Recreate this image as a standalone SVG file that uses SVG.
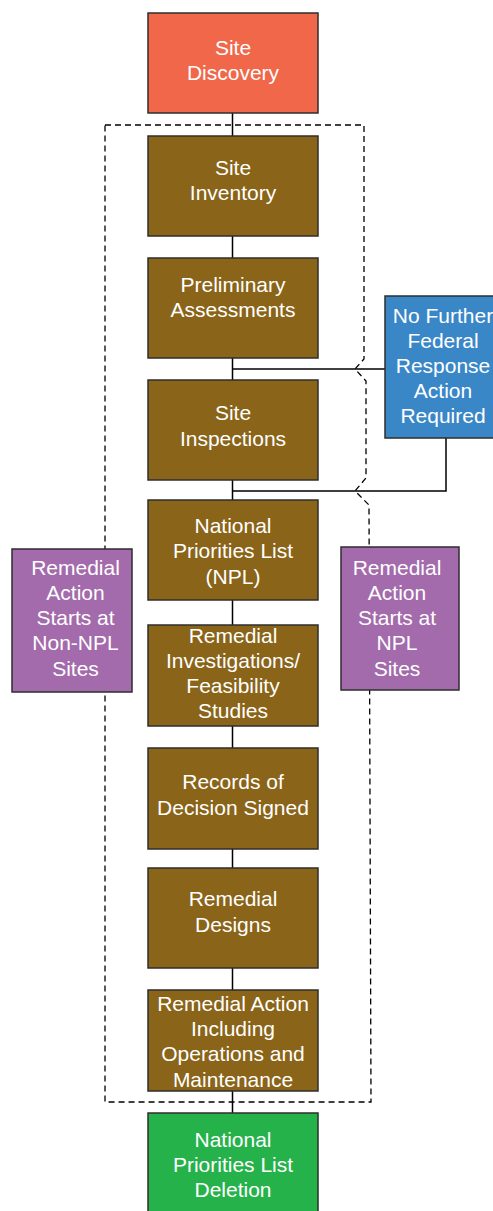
<svg xmlns="http://www.w3.org/2000/svg" width="493" height="1211" viewBox="0 0 493 1211">
<style>
.box{stroke:#2e2e2e;stroke-width:1.5}
.brown{fill:#8A6419}
.t{font-family:"Liberation Sans",Arial,sans-serif;font-size:21px;fill:#ffffff;text-anchor:middle}
.conn{fill:none;stroke:#000;stroke-width:1.5}
.dash{fill:none;stroke:#000;stroke-width:1.3;stroke-dasharray:6,4}
</style>
<rect width="493" height="1211" fill="#ffffff"/>
<g id="boundary">
<path class="dash" d="M105,125 H364 V359 L355,369 L366,381 V478 L355,491 L369,505 L371,1102 H105 Z"/>
</g>
<g id="connectors">
<path class="conn" d="M232.5,113 V136 M232.5,236 V258 M232.5,358 V380 M232.5,480 V500 M232.5,600 V625 M232.5,726 V748 M232.5,849 V868 M232.5,968 V990 M232.5,1091 V1113"/>
<path class="conn" d="M232.5,369 H385"/>
<path class="conn" d="M232.5,491 H446 V438"/>
</g>
<g id="site-discovery">
<rect class="box" x="148" y="13" width="170" height="100" fill="#F0674A"/>
<text class="t" x="233" y="55">Site</text>
<text class="t" x="233" y="80">Discovery</text>
</g>
<g id="site-inventory">
<rect class="box brown" x="148" y="136" width="170" height="100"/>
<text class="t" x="233" y="175">Site</text>
<text class="t" x="233" y="200">Inventory</text>
</g>
<g id="preliminary-assessments">
<rect class="box brown" x="148" y="258" width="170" height="100"/>
<text class="t" x="233" y="292">Preliminary</text>
<text class="t" x="233" y="317">Assessments</text>
</g>
<g id="site-inspections">
<rect class="box brown" x="148" y="380" width="170" height="100"/>
<text class="t" x="233" y="420">Site</text>
<text class="t" x="233" y="446">Inspections</text>
</g>
<g id="npl">
<rect class="box brown" x="148" y="500" width="170" height="100"/>
<text class="t" x="233" y="533">National</text>
<text class="t" x="233" y="558">Priorities List</text>
<text class="t" x="233" y="584">(NPL)</text>
</g>
<g id="ri-fs">
<rect class="box brown" x="148" y="625" width="170" height="101"/>
<text class="t" x="233" y="643">Remedial</text>
<text class="t" x="233" y="668">Investigations/</text>
<text class="t" x="233" y="693">Feasibility</text>
<text class="t" x="233" y="718">Studies</text>
</g>
<g id="records-of-decision">
<rect class="box brown" x="148" y="748" width="170" height="101"/>
<text class="t" x="233" y="789">Records of</text>
<text class="t" x="233" y="815">Decision Signed</text>
</g>
<g id="remedial-designs">
<rect class="box brown" x="148" y="868" width="170" height="100"/>
<text class="t" x="233" y="906">Remedial</text>
<text class="t" x="233" y="932">Designs</text>
</g>
<g id="remedial-action">
<rect class="box brown" x="148" y="990" width="170" height="101"/>
<text class="t" x="233" y="1011">Remedial Action</text>
<text class="t" x="233" y="1036">Including</text>
<text class="t" x="233" y="1061">Operations and</text>
<text class="t" x="233" y="1087">Maintenance</text>
</g>
<g id="npl-deletion">
<rect class="box" x="148" y="1113" width="170" height="102" fill="#26B24B"/>
<text class="t" x="233" y="1147">National</text>
<text class="t" x="233" y="1172">Priorities List</text>
<text class="t" x="233" y="1197">Deletion</text>
</g>
<g id="no-further-action">
<rect class="box" x="385" y="296" width="118" height="142" fill="#3A87C7"/>
<text class="t" x="443" y="323">No Further</text>
<text class="t" x="443" y="348">Federal</text>
<text class="t" x="443" y="373">Response</text>
<text class="t" x="443" y="398">Action</text>
<text class="t" x="443" y="423">Required</text>
</g>
<g id="non-npl-sites">
<rect class="box" x="12" y="549" width="120" height="143" fill="#A36BAC"/>
<text class="t" x="75.5" y="575">Remedial</text>
<text class="t" x="75.5" y="600">Action</text>
<text class="t" x="75.5" y="625">Starts at</text>
<text class="t" x="75.5" y="650">Non-NPL</text>
<text class="t" x="75.5" y="676">Sites</text>
</g>
<g id="npl-sites">
<rect class="box" x="341" y="547" width="118" height="143" fill="#A36BAC"/>
<text class="t" x="397" y="575">Remedial</text>
<text class="t" x="397" y="600">Action</text>
<text class="t" x="397" y="625">Starts at</text>
<text class="t" x="397" y="650">NPL</text>
<text class="t" x="397" y="676">Sites</text>
</g>
</svg>
